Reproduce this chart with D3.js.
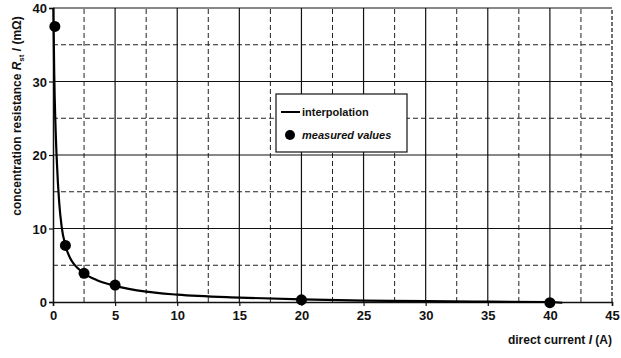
<!DOCTYPE html>
<html>
<head>
<meta charset="utf-8">
<script src="https://cdn.jsdelivr.net/npm/d3@7"></script>
<style>
body { margin: 0; background: #fff; }
text { font-family: "Liberation Sans", Arial, sans-serif; fill: #111; }
</style>
</head>
<body>
<script>
var w = 621, h = 358;
var margin = {left: 53, right: 9, top: 8, bottom: 56};

// measured values (direct current in A, resistance in mOhm)
var measuredI = [0.15, 1, 2.5, 5, 20, 40];
var measuredR = [37.5, 7.7, 3.9, 2.3, 0.3, -0.1];

// interpolation curve
var curveI = [0.03, 0.06, 0.1, 0.2, 0.3, 0.5, 0.7, 1, 1.5, 2, 2.5, 3.5, 5, 7.5, 10, 15, 20, 25, 30, 35, 40, 41];
var curveR = [40, 36, 31, 24, 19.5, 13.5, 10.2, 7.7, 5.6, 4.6, 3.9, 3.0, 2.2, 1.4, 1.0, 0.6, 0.35, 0.2, 0.12, 0.05, 0, -0.1];

var xTicks = [0, 5, 10, 15, 20, 25, 30, 35, 40, 45];
var yTicks = [0, 10, 20, 30, 40];
var xMinor = [2.5, 7.5, 12.5, 17.5, 22.5, 27.5, 32.5, 37.5, 42.5];
var yMinor = [5, 15, 25, 35];

var legendLabels = ["interpolation", "measured values"];

function draw() {
	var svg = d3.select("body")
			.append("svg")
			.attr("width", w)
			.attr("height", h);

	var x = d3.scaleLinear().domain([0, 45]).range([margin.left, w - margin.right]);
	var y = d3.scaleLinear().domain([0, 40]).range([h - margin.bottom, margin.top]);

	// dashed minor grid
	svg.selectAll(".xminor").data(xMinor).enter().append("line")
		.attr("x1", d => x(d)).attr("x2", d => x(d))
		.attr("y1", y(0)).attr("y2", y(40))
		.attr("stroke", "#222").attr("stroke-width", 1)
		.attr("stroke-dasharray", "5,3");
	svg.selectAll(".yminor").data(yMinor).enter().append("line")
		.attr("y1", d => y(d)).attr("y2", d => y(d))
		.attr("x1", x(0)).attr("x2", x(45))
		.attr("stroke", "#222").attr("stroke-width", 1)
		.attr("stroke-dasharray", "5,3");

	// solid major grid
	svg.selectAll(".xmajor").data(xTicks.slice(1, -1)).enter().append("line")
		.attr("x1", d => x(d)).attr("x2", d => x(d))
		.attr("y1", y(0)).attr("y2", y(40))
		.attr("stroke", "#111").attr("stroke-width", 1.2);
	svg.selectAll(".ymajor").data(yTicks.slice(1)).enter().append("line")
		.attr("y1", d => y(d)).attr("y2", d => y(d))
		.attr("x1", x(0)).attr("x2", x(45))
		.attr("stroke", "#111").attr("stroke-width", 1.2);

	// right border dashed
	svg.append("line")
		.attr("x1", x(45)).attr("x2", x(45))
		.attr("y1", y(0)).attr("y2", y(40))
		.attr("stroke", "#111").attr("stroke-width", 1.2)
		.attr("stroke-dasharray", "4,2");

	// axes
	var xAxis = svg.append("g")
		.attr("transform", "translate(0," + y(0) + ")")
		.call(d3.axisBottom(x).tickValues(xTicks).tickSize(4).tickPadding(5));
	var yAxis = svg.append("g")
		.attr("transform", "translate(" + x(0) + ",0)")
		.call(d3.axisLeft(y).tickValues(yTicks).tickSize(4).tickPadding(2));
	[xAxis, yAxis].forEach(function(a) {
		a.select(".domain").attr("stroke", "#111").attr("stroke-width", 1.5);
		a.selectAll(".tick line").attr("stroke", "#111").attr("stroke-width", 1.2);
		a.selectAll("text")
			.style("font-family", "Liberation Sans, Arial, sans-serif")
			.style("font-size", "13px")
			.style("font-weight", "bold")
			.attr("fill", "#111");
	});
	yAxis.selectAll("text").attr("dy", "0.36em");

	// interpolation line
	var pts = curveI.map(function(d, i) { return [d, curveR[i]]; });
	svg.append("path")
		.datum(pts)
		.attr("d", d3.line().x(d => x(d[0])).y(d => y(d[1])).curve(d3.curveMonotoneX))
		.attr("fill", "none")
		.attr("stroke", "#000")
		.attr("stroke-width", 2.2);

	// measured points
	svg.selectAll(".pt").data(measuredI).enter().append("circle")
		.attr("cx", d => x(d))
		.attr("cy", (d, i) => y(measuredR[i]))
		.attr("r", 5.5)
		.attr("fill", "#000");

	// legend
	var lg = svg.append("g");
	lg.append("rect")
		.attr("x", 276).attr("y", 94).attr("width", 131).attr("height", 58)
		.attr("fill", "#fff").attr("stroke", "#111").attr("stroke-width", 1.2);
	lg.append("line")
		.attr("x1", 281).attr("x2", 300).attr("y1", 112).attr("y2", 112)
		.attr("stroke", "#000").attr("stroke-width", 2);
	lg.append("text").attr("x", 302).attr("y", 116)
		.style("font-size", "11px").style("font-weight", "bold")
		.text(legendLabels[0]);
	lg.append("circle").attr("cx", 290).attr("cy", 135).attr("r", 5).attr("fill", "#000");
	lg.append("text").attr("x", 302).attr("y", 139)
		.style("font-size", "11px").style("font-weight", "bold").style("font-style", "italic")
		.text(legendLabels[1]);

	// axis titles
	var xt = svg.append("text")
		.attr("x", 612).attr("y", 344)
		.attr("text-anchor", "end")
		.style("font-size", "12px").style("font-weight", "bold");
	xt.append("tspan").text("direct current ");
	xt.append("tspan").style("font-style", "italic").text("I");
	xt.append("tspan").text(" (A)");

	var yt = svg.append("text")
		.attr("transform", "translate(21,116) rotate(-90)")
		.attr("text-anchor", "middle")
		.style("font-size", "12px").style("font-weight", "bold");
	yt.append("tspan").text("concentration resistance ");
	yt.append("tspan").style("font-style", "italic").text("R");
	yt.append("tspan").attr("dy", 3).style("font-size", "8px").text("st");
	yt.append("tspan").attr("dy", -3).text(" / (mΩ)");
}

draw();
</script>
</body>
</html>
